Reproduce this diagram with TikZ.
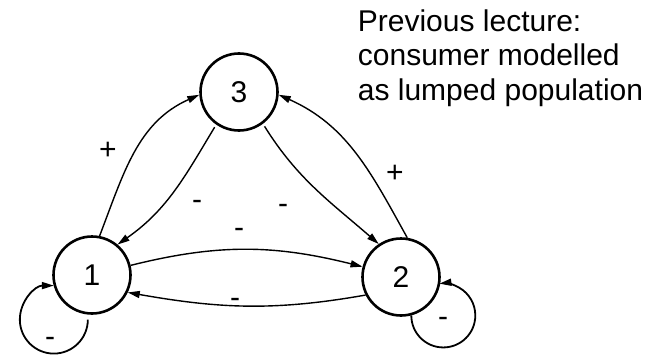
\documentclass[tikz,border=0pt]{standalone}
\usepackage{fontspec}
\setmainfont{Liberation Sans}
\usetikzlibrary{arrows.meta}
\begin{document}
\begin{tikzpicture}[x=1pt,y=1pt,
  state/.style={circle, draw, line width=2.6pt, minimum size=77pt, inner sep=0pt,
    font=\fontsize{30}{34}\selectfont},
  link/.style={line width=1.4pt, -{Triangle[length=12pt,width=7pt]}},
  loopline/.style={line width=1.8pt, -{Triangle[length=12pt,width=7pt]}},
  sign/.style={inner sep=0pt, anchor=base, font=\fontsize{30}{34}\selectfont},
  note/.style={inner sep=0pt, anchor=base west, align=left,
    font=\fontsize{30}{34.5}\selectfont}]
\useasboundingbox (0,0) rectangle (652,354);

% the three populations
\node[state] (n1) at (92,79) {1};
\node[state] (n2) at (401,77) {2};
\node[state] (n3) at (239,262) {3};

% interactions between populations
\draw[link] (n1.79) to[out=69,in=204] (n3.184);
\draw[link, shorten <=3pt] (n3.235) to[out=239,in=35] (n1.50);
\draw[link, shorten <=3pt] (n3.307) to[out=302,in=139] (n2.124);
\draw[link] (n2.81) to[out=119,in=336] (n3.356);
\draw[link] (n1.14) to[out=14,in=166] (n2.165);
\draw[link] (n2.207) to[out=190,in=350] (n1.334);

% self-regulation loops
\draw[loopline] ([yshift=-5pt]n1.-96) arc[start angle=0, end angle=-270, radius=34];
\draw[loopline] (n2.-75) arc[start angle=180, end angle=457, radius=32];

% signs of the interactions
\node[sign] (p13) at (108,195) {+};
\node[sign] (m31) at (197,145) {-};
\node[sign] (m32) at (283,141) {-};
\node[sign] (m12) at (239,117) {-};
\node[sign] (m21) at (235,47) {-};
\node[sign] (p23) at (395,172) {+};
\node[sign] (m11) at (50,8) {-};
\node[sign] (m22) at (443,28) {-};

% caption (anchored at the baseline of its last line)
\node[note] (caption) at (357.7,254) {Previous lecture:\\consumer modelled\\as lumped population};
\end{tikzpicture}
\end{document}
